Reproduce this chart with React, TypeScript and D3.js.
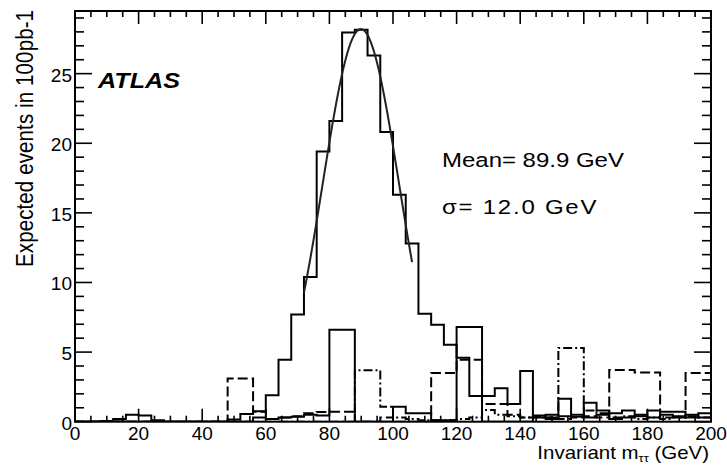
import React from "react";
import * as d3 from "d3";

// ---- data (4 GeV bins from 0 to 200) ----
const binEdgesStart = 0;
const binWidth = 4;
const signalValues = [
  0, 0, 0.05, 0.2, 0.5, 0.45, 0.1, 0, 0, 0,
  0, 0, 0.15, 0.55, 0.75, 1.9, 4.45, 7.7, 10.4, 19.4,
  21.6, 27.95, 28.15, 26.3, 20.8, 16.3, 12.8, 7.75, 6.97, 5.53,
  4.6, 1.85, 1.85, 2.4, 1.28, 3.65, 0.45, 0.5, 1.65, 0.35,
  1.37, 0.8, 0.6, 0.8, 0.5, 0.8, 0.72, 0.72, 0.3, 0.6,
];
const otherSolidValues = [
  0, 0, 0, 0, 0, 0, 0, 0, 0, 0,
  0, 0, 0, 0, 0.3, 0.2, 0.3, 0.35, 0.5, 0.45,
  6.6, 6.6, 0, 0, 0, 1.08, 0.6, 0.6, 0.1, 0.1,
  6.8, 6.8, 0, 0, 0, 0, 0.3, 0.2, 0.4, 0.5,
  0.3, 0.5, 0.2, 0.3, 0.4, 0.3, 0.5, 0.4, 0.5, 0.3,
];
const dashedValues = [
  0, 0, 0, 0.15, 0, 0, 0, 0, 0, 0,
  0, 0, 3.1, 3.1, 0.72, 0.2, 0.3, 0.4, 0.6, 0.7,
  0.72, 0.72, 0, 0, 0.3, 0, 0, 0, 3.5, 3.5,
  4.45, 4.45, 1.28, 1.28, 0.5, 0.3, 0.3, 0.3, 0.2, 0.3,
  0.4, 0.3, 3.72, 3.72, 3.53, 3.53, 0.3, 0.3, 3.49, 3.49,
];
const dashDotValues = [
  0, 0, 0, 0, 0, 0, 0, 0, 0, 0,
  0, 0, 0, 0, 0, 0, 0, 0, 0, 0,
  0, 0, 3.7, 3.7, 1.08, 0.3, 0.2, 0.1, 0.1, 0.1,
  0.2, 0.3, 0.84, 0.5, 0.4, 0.3, 0.4, 0.3, 5.3, 5.3,
  0.8, 0.6, 0.3, 0.4, 0.2, 0.3, 0.2, 0.3, 0.4, 0.3,
];
const fitParams = [28.2, 89.9, 12.0]; // amplitude, mean, sigma
const fitRange = [72, 106];
const xTickValues = [0, 20, 40, 60, 80, 100, 120, 140, 160, 180, 200];
const yTickValues = [0, 5, 10, 15, 20, 25];
const xTitle = "Invariant m";
const xTitleSub = "ττ";
const xTitleUnit = " (GeV)";
const yTitle = "Expected events in 100pb-1";
const meanLabel = "Mean= 89.9 GeV";
const sigmaLabel = "σ= 12.0 GeV";
const atlasLabel = "ATLAS";

const W = 727;
const H = 465;
const L = 75, R = 711, T = 11, B = 421.7;
const FONT = "'Liberation Sans', Arial, Helvetica, sans-serif";
const SX = 1.17; // horizontal stretch of the text glyphs

export default function App() {
  const x = d3.scaleLinear().domain([0, 200]).range([L, R]);
  const y = d3.scaleLinear().domain([0, 29.5]).range([B, T]);
  const line = d3
    .line<[number, number]>()
    .x((d) => x(d[0]))
    .y((d) => y(d[1]));

  const histPts = (vals: number[]): [number, number][] => {
    const pts: [number, number][] = [[binEdgesStart, 0]];
    vals.forEach((v, i) => {
      const lo = binEdgesStart + i * binWidth;
      pts.push([lo, v]);
      pts.push([lo + binWidth, v]);
    });
    pts.push([binEdgesStart + vals.length * binWidth, 0]);
    return pts;
  };

  const [A, mu, sig] = fitParams;
  const fitPts: [number, number][] = [];
  for (let m = fitRange[0]; m <= fitRange[1] + 1e-9; m += 0.25) {
    fitPts.push([m, A * Math.exp(-((m - mu) * (m - mu)) / (2 * sig * sig))]);
  }

  const xMinor = d3.range(0, 201, 5);
  const yMinor = d3.range(0, 29.5, 1);

  return (
    <div style={{ position: "absolute", left: 0, top: 0 }}>
      <svg width={W} height={H} style={{ display: "block", background: "#fff" }}>
        <defs>
          <clipPath id="plot">
            <rect x={L} y={T} width={R - L} height={B - T} />
          </clipPath>
        </defs>
        <g clipPath="url(#plot)" fill="none" stroke="#000" strokeWidth={2}>
          <path d={line(histPts(otherSolidValues)) || ""} />
          <path d={line(histPts(dashedValues)) || ""} strokeDasharray="10,4" />
          <path d={line(histPts(dashDotValues)) || ""} strokeDasharray="9,3,2,3" />
          <path d={line(histPts(signalValues)) || ""} />
          <path d={line(fitPts) || ""} stroke="#222" strokeWidth={2} />
        </g>
        {/* ticks */}
        <g stroke="#000" strokeWidth={1.6}>
          {xMinor.map((v) => {
            const major = v % 20 === 0;
            const len = major ? 13 : 6;
            return (
              <g key={"xt" + v}>
                <line x1={x(v)} x2={x(v)} y1={B} y2={B - len} />
                <line x1={x(v)} x2={x(v)} y1={T} y2={T + len} />
              </g>
            );
          })}
          {yMinor.map((v) => {
            const major = v % 5 === 0;
            const len = major ? 17 : 9;
            return (
              <g key={"yt" + v}>
                <line x1={L} x2={L + len} y1={y(v)} y2={y(v)} />
                <line x1={R} x2={R - len} y1={y(v)} y2={y(v)} />
              </g>
            );
          })}
        </g>
        <rect x={L} y={T} width={R - L} height={B - T} fill="none" stroke="#000" strokeWidth={2} />
        {/* tick labels */}
        <g fontFamily={FONT} fontSize={19} fill="#000">
          {xTickValues.map((v) => (
            <text key={"xl" + v} x={x(v)} y={440} textAnchor="middle">
              {v}
            </text>
          ))}
          {yTickValues.map((v) => (
            <text key={"yl" + v} x={72} y={y(v) + 8} textAnchor="end">
              {v}
            </text>
          ))}
        </g>
        {/* axis titles */}
        <text
          fontFamily={FONT}
          fontSize={17.5}
          transform={`translate(709,459) scale(${SX},1)`}
          textAnchor="end"
        >
          {xTitle}
          <tspan fontSize={11} dy={3}>{xTitleSub}</tspan>
          <tspan dy={-3}>{xTitleUnit}</tspan>
        </text>
        <text
          fontFamily={FONT}
          fontSize={20.5}
          transform={`translate(33,10) scale(${SX},1) rotate(-90)`}
          textAnchor="end"
          textLength={257}
          lengthAdjust="spacing"
        >
          {yTitle}
        </text>
        <text
          fontFamily={FONT}
          fontSize={21.5}
          fontWeight="bold"
          fontStyle="italic"
          transform={`translate(98,88) scale(${SX},1)`}
        >
          {atlasLabel}
        </text>
        <text
          fontFamily={FONT}
          fontSize={20.5}
          transform={`translate(442,166.5) scale(${SX},1)`}
        >
          {meanLabel}
        </text>
        <text
          fontFamily={FONT}
          fontSize={20.5}
          transform={`translate(442,214) scale(${SX},1)`}
          textLength={132}
          lengthAdjust="spacing"
        >
          {sigmaLabel}
        </text>
      </svg>
    </div>
  );
}
